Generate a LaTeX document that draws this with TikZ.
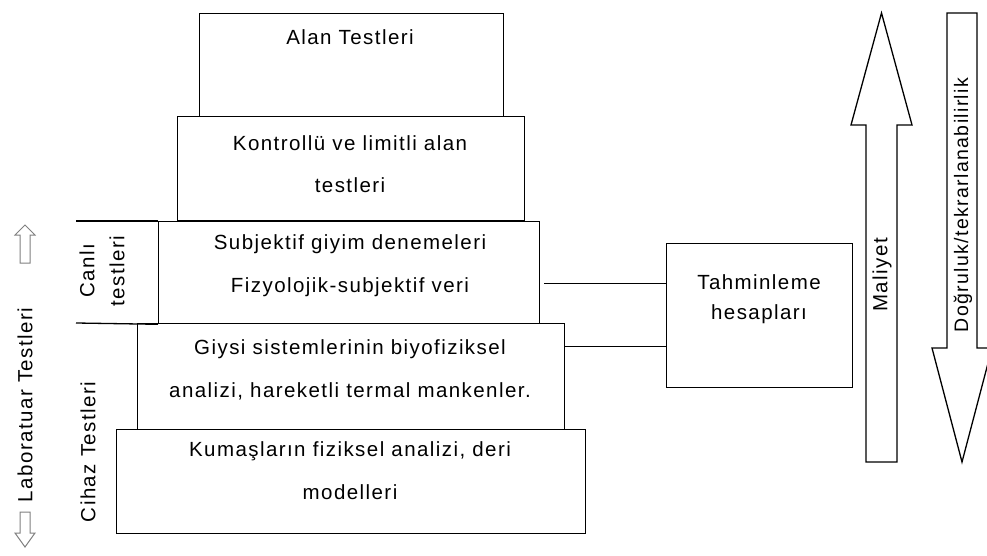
\documentclass[tikz,border=0pt]{standalone}
\usepackage{fontspec}
\setmainfont[LetterSpace=7]{Liberation Sans}
\begin{document}
\begin{tikzpicture}[x=1pt,y=-1pt,line width=1.3pt,
  tier/.style={draw,rectangle,inner sep=0pt,anchor=north west},
  txt/.style={anchor=base,inner sep=0pt,font=\fontsize{20.5}{24}\selectfont},
  side/.style={inner sep=0pt,font=\fontsize{20.5}{24}\selectfont,rotate=90},
  bigarrow/.style={draw,line join=miter,fill=white},
  hint/.style={draw=black!50,line width=1pt,line join=miter}]
\useasboundingbox (0,0) rectangle (987,556);

% stacked test levels
\node[tier,minimum width=304pt,minimum height=103pt] (b1) at (199,13) {};
\node[tier,minimum width=347pt,minimum height=104pt] (b2) at (177,116) {};
\node[tier,minimum width=381pt,minimum height=102pt] (b3) at (158,221) {};
\node[tier,minimum width=427pt,minimum height=106pt] (b4) at (137,323) {};
\node[tier,minimum width=469pt,minimum height=104pt] (b5) at (116,429) {};
\node[tier,minimum width=186pt,minimum height=144pt] (tah) at (666,243) {};

% open band for the live tests
\coordinate (ct) at (76,221);
\coordinate (cb) at (76,323);
\draw (ct) -- (b3.north west);
\draw (cb) -- (b3.south west);

% texts of the levels
\node[txt] (t1) at (350,45) {Alan Testleri};
\node[txt] (t2a) at (350,151) {Kontrollü ve limitli alan};
\node[txt] (t2b) at (350,193) {testleri};
\node[txt] (t3a) at (350,249) {Subjektif giyim denemeleri};
\node[txt] (t3b) at (350,292) {Fizyolojik-subjektif veri};
\node[txt] (t4a) at (350,354) {Giysi sistemlerinin biyofiziksel};
\node[txt] (t4b) at (350,397) {analizi, hareketli termal mankenler.};
\node[txt] (t5a) at (350,456) {Kumaşların fiziksel analizi, deri};
\node[txt] (t5b) at (350,499) {modelleri};
\node[txt] (t6a) at (759,289) {Tahminleme};
\node[txt] (t6b) at (759,319) {hesapları};

% links to the estimation box
\draw ([xshift=4pt,yshift=-11pt]b3.east) -- ([yshift=-11pt]b3.east -| tah.west);
\draw ([yshift=30pt]b4.east) -- ([yshift=30pt]b4.east -| tah.west);

% side labels
\node[side] (lab) at (25,405) {Laboratuar Testleri};
\node[side] (cih) at (88,452) {Cihaz Testleri};
\node[side,align=center,font=\fontsize{20.5}{30}\selectfont] (can) at (102,271) {Canlı\\testleri};

% small hollow arrows beside the laboratory label
\draw[hint] (25,225) -- (35,235) -- (30,235) -- (30,263) -- (20,263) -- (20,235) -- (15,235) -- cycle;
\draw[hint] (20,512) -- (30,512) -- (30,533) -- (35,533) -- (25,547) -- (15,533) -- (20,533) -- cycle;

% cost and accuracy arrows
\draw[bigarrow] (866,462) -- (866,125) -- (851,125) -- (881.5,13) -- (912,125) -- (897,125) -- (897,462) -- cycle;
\draw[bigarrow] (947,13) -- (977,13) -- (977,348) -- (992,348) -- (962,462) -- (932,348) -- (947,348) -- cycle;
\node[side] (mal) at (882,275) {Maliyet};
\node[side,font=\fontsize{19.5}{23}\selectfont] (dog) at (963,205) {Doğruluk/tekrarlanabilirlik};
\end{tikzpicture}
\end{document}
